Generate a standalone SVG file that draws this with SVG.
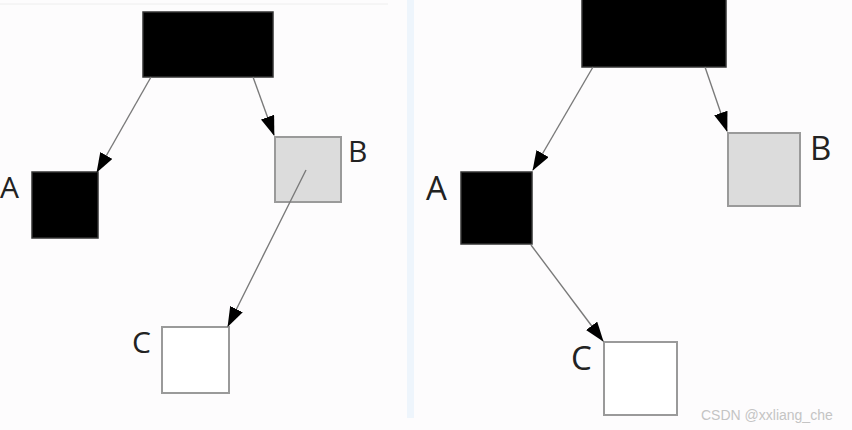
<svg xmlns="http://www.w3.org/2000/svg" width="852" height="430" viewBox="0 0 852 430">
<style>
.lbl{font-family:"Open Sans","Noto Sans",sans-serif;fill:#222}
.edge{stroke:#7a7a7a;stroke-width:1.4;fill:none}
.blk{fill:#000;stroke:#333;stroke-width:1.5}
.gry{fill:#dcdcdc;stroke:#9a9a9a;stroke-width:2}
.wht{fill:#fff;stroke:#9a9a9a;stroke-width:2}
</style>
<defs>
<marker id="arr" markerUnits="userSpaceOnUse" markerWidth="20" markerHeight="14" refX="19" refY="7" orient="auto">
<path d="M0,0 L20,7 L0,14 z" fill="#000"/>
</marker>
</defs>
<rect x="0" y="0" width="852" height="430" fill="#fdfcfd"/>
<line x1="0" y1="4" x2="388" y2="4" stroke="#eeeeee" stroke-width="1"/>
<rect x="407" y="0" width="7" height="418" fill="#eef5fc"/>
<g id="L-root"><rect class="blk" x="143" y="12" width="130" height="65"/></g>
<g id="L-A"><rect class="blk" x="32" y="172" width="66" height="66"/><text class="lbl" x="0" y="198" font-size="30">A</text></g>
<g id="L-B"><rect class="gry" x="275" y="137" width="66" height="65"/><text class="lbl" x="348" y="162" font-size="30">B</text></g>
<g id="L-C"><rect class="wht" x="162" y="327" width="67" height="66"/><text class="lbl" x="132" y="353" font-size="30">C</text></g>
<g id="R-root"><rect class="blk" x="582" y="-2" width="144" height="69"/></g>
<g id="R-A"><rect class="blk" x="461" y="172" width="71" height="72"/><text class="lbl" x="426" y="200" font-size="33">A</text></g>
<g id="R-B"><rect class="gry" x="728" y="133" width="72" height="73"/><text class="lbl" x="810" y="160" font-size="33">B</text></g>
<g id="R-C"><rect class="wht" x="604" y="342" width="73" height="73"/><text class="lbl" x="571" y="370" font-size="33">C</text></g>
<g id="edges">
<line class="edge" x1="151" y1="77" x2="97" y2="172" marker-end="url(#arr)"/>
<line class="edge" x1="253" y1="77" x2="274" y2="135" marker-end="url(#arr)"/>
<line class="edge" x1="306" y1="170" x2="228" y2="326" marker-end="url(#arr)"/>
<line class="edge" x1="593" y1="67" x2="533" y2="170" marker-end="url(#arr)"/>
<line class="edge" x1="705" y1="67" x2="727" y2="131" marker-end="url(#arr)"/>
<line class="edge" x1="531" y1="245" x2="603" y2="341" marker-end="url(#arr)"/>
</g>
<text x="701" y="420" font-family="Liberation Sans, sans-serif" font-size="14" fill="#c4c4c4">CSDN @xxliang_che</text>
</svg>
